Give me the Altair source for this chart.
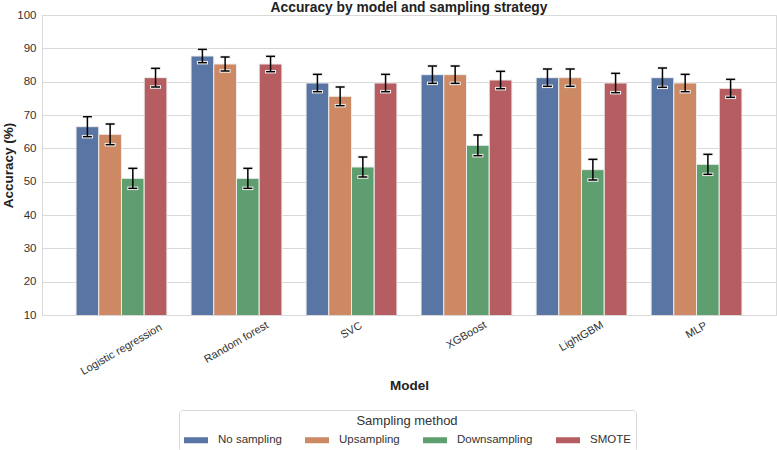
import altair as alt
import pandas as pd

# Models on the x axis and the sampling strategies compared for each
models = ["Logistic regression", "Random forest", "SVC", "XGBoost", "LightGBM", "MLP"]
methods = ["No sampling", "Upsampling", "Downsampling", "SMOTE"]
colors = ["#5975a4", "#cc8963", "#5f9e6e", "#b55d60"]

# Mean accuracy (%) per model for each strategy
acc_none = [66.5, 87.7, 79.6, 82.1, 81.2, 81.2]
acc_up = [64.2, 85.3, 75.6, 82.1, 81.2, 79.6]
acc_down = [51.0, 51.0, 54.4, 60.9, 53.6, 55.2]
acc_smote = [81.2, 85.3, 79.6, 80.5, 79.6, 78.0]

# Half-width of the error bars (percentage points)
err_none = [3.0, 2.0, 2.6, 2.6, 2.6, 2.9]
err_up = [3.1, 2.1, 2.8, 2.6, 2.6, 2.6]
err_down = [3.0, 3.0, 3.0, 3.1, 3.1, 3.0]
err_smote = [2.8, 2.3, 2.6, 2.6, 2.9, 2.7]

y_ticks = list(range(10, 101, 10))
chart_title = "Accuracy by model and sampling strategy"

rows = []
for method, accs, errs in zip(
    methods,
    [acc_none, acc_up, acc_down, acc_smote],
    [err_none, err_up, err_down, err_smote],
):
    for model, a, e in zip(models, accs, errs):
        rows.append({"Model": model, "Method": method, "Accuracy": a, "Err": e})
df = pd.DataFrame(rows)

FONT = "Liberation Sans"
TEXT = "#333333"
GRID = "#d9d9d9"
W, H = 734, 300

x_enc = alt.X(
    "Model:N",
    sort=models,
    scale=alt.Scale(paddingInner=0.21, paddingOuter=0.296),
    axis=alt.Axis(
        title="Model",
        titleFontSize=13.5,
        titleFontWeight="bold",
        titleColor="#222222",
        titleY=70,
        titleBaseline="middle",
        labelAngle=-30,
        labelAlign="center",
        labelBaseline="middle",
        labelPadding=alt.ExprRef("11.5 + 1.2 * length(datum.label)"),
        labelFontSize=11,
        labelColor=TEXT,
        ticks=False,
        domain=False,
        grid=False,
    ),
)
xo_enc = alt.XOffset("Method:N", sort=methods, scale=alt.Scale(paddingInner=0, paddingOuter=0))
y_scale = alt.Scale(domain=[10, 100], nice=False, zero=False)
y_axis = alt.Axis(
    title="Accuracy (%)",
    titleFontSize=13.5,
    titleFontWeight="bold",
    titleColor="#222222",
    titleX=-34,
    titleBaseline="middle",
    values=y_ticks,
    labelFontSize=11.5,
    labelColor=TEXT,
    labelPadding=6,
    labelOverlap=False,
    labelFlush=False,
    ticks=False,
    domain=False,
    grid=True,
    gridColor=GRID,
    gridWidth=1,
)

base = alt.Chart(df).encode(x=x_enc, xOffset=xo_enc)

bars = base.mark_bar(clip=True, stroke="#ececec", strokeWidth=1).encode(
    y=alt.Y("Accuracy:Q", scale=y_scale, axis=y_axis),
    color=alt.Color(
        "Method:N",
        sort=methods,
        scale=alt.Scale(domain=methods, range=colors),
        legend=alt.Legend(
            orient="none",
            legendX=137,
            legendY=395,
            direction="horizontal",
            columns=4,
            title="Sampling method",
            titleAnchor="middle",
            titleFontSize=13,
            titleFontWeight="normal",
            titleColor=TEXT,
            titlePadding=0,
            labelFontSize=11.5,
            labelColor=TEXT,
            labelOffset=10,
            columnPadding=23,
            symbolType="M-1,-0.25L1,-0.25L1,0.25L-1,0.25Z",
            symbolSize=576,
            symbolStrokeWidth=0,
            symbolOpacity=1,
            padding=5,
            strokeColor=GRID,
            cornerRadius=3,
        ),
    ),
)

err = base.transform_calculate(
    lo="datum.Accuracy - datum.Err", hi="datum.Accuracy + datum.Err"
)
y_lo = alt.Y("lo:Q", scale=y_scale, axis=y_axis)
y_hi = alt.Y("hi:Q", scale=y_scale, axis=y_axis)

whiskers = err.mark_rule(color="black", strokeWidth=1.5).encode(y=y_lo, y2="hi:Q")
cap_halo_lo = err.mark_tick(color="#f2f2f2", thickness=3.5, size=11, opacity=1).encode(y=y_lo)
cap_halo_hi = err.mark_tick(color="#f2f2f2", thickness=3.5, size=11, opacity=1).encode(y=y_hi)
cap_lo = err.mark_tick(color="black", thickness=1.5, size=9, opacity=1).encode(y=y_lo)
cap_hi = err.mark_tick(color="black", thickness=1.5, size=9, opacity=1).encode(y=y_hi)

# Chart heading, centred over the plot area just above its frame
heading = (
    alt.Chart(pd.DataFrame({"title": [chart_title]}))
    .mark_text(
        fontSize=13.8,
        fontWeight="bold",
        color="#222222",
        align="center",
        baseline="alphabetic",
    )
    .encode(text="title:N", x=alt.value(W / 2), y=alt.value(-3.5))
)

chart = (
    alt.layer(bars, cap_halo_lo, cap_halo_hi, whiskers, cap_lo, cap_hi, heading)
    .properties(
        width=W,
        height=H,
        autosize=alt.AutoSizeParams(type="none"),
        padding={"left": 42, "top": 15, "right": 1, "bottom": 135},
    )
    .configure(font=FONT, background="white")
    .configure_view(stroke=GRID, strokeWidth=1)
)

chart.save("out.html", embed_options={"renderer": "svg", "actions": False})
